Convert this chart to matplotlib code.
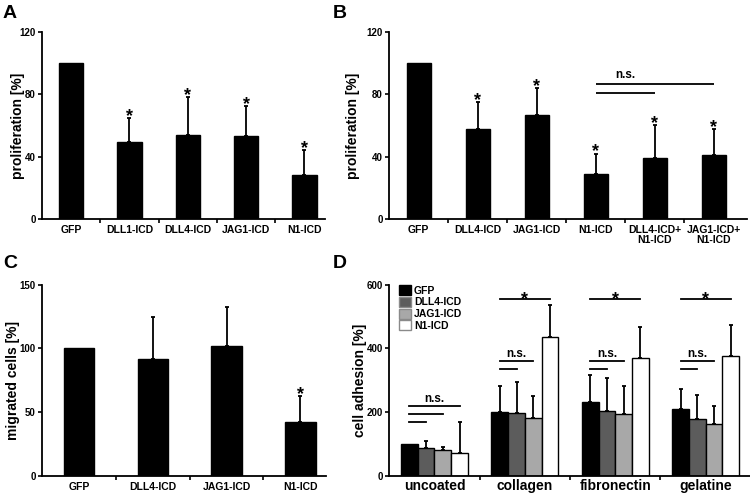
import matplotlib
matplotlib.use("Agg")
import matplotlib.pyplot as plt
from matplotlib.patches import Patch
import numpy as np

plt.rcParams['font.family'] = ['Liberation Sans', 'DejaVu Sans']
plt.rcParams['font.weight'] = 'bold'

# ------------------ data ------------------
a_labels = ["GFP", "DLL1-ICD", "DLL4-ICD", "JAG1-ICD", "N1-ICD"]
a_vals = [100, 49.5, 54, 53.5, 28]
a_sd = [0, 15, 24, 19, 16]
a_star = [False, True, True, True, True]

b_labels = ["GFP", "DLL4-ICD", "JAG1-ICD", "N1-ICD", "DLL4-ICD+\nN1-ICD", "JAG1-ICD+\nN1-ICD"]
b_vals = [100, 58, 67, 29, 39, 41.3]
b_sd = [0, 17, 17, 13, 21, 16.3]
b_star = [False, True, True, True, True, True]

c_labels = ["GFP", "DLL4-ICD", "JAG1-ICD", "N1-ICD"]
c_vals = [100, 92, 102, 42]
c_sd = [0, 33, 30.5, 20.5]
c_star = [False, False, False, True]

d_groups = ["uncoated", "collagen", "fibronectin", "gelatine"]
d_series = ["GFP", "DLL4-ICD", "JAG1-ICD", "N1-ICD"]
d_vals = {
    "GFP":      [100, 201, 232, 211],
    "DLL4-ICD": [89, 197, 205, 180],
    "JAG1-ICD": [81, 183, 193, 163],
    "N1-ICD":   [72, 435, 370, 375],
}
d_sd = {
    "GFP":      [0, 82, 84, 61],
    "DLL4-ICD": [21, 97, 102, 73],
    "JAG1-ICD": [11, 67, 88, 56],
    "N1-ICD":   [97, 101, 98, 98],
}
d_colors = ["#000000", "#5c5c5c", "#a8a8a8", "#ffffff"]

# ------------------ helpers ------------------
def style_axis(ax, ymax, yticks, ylabel, ncat, xright, label_x):
    for s in ["top", "right"]:
        ax.spines[s].set_visible(False)
    for s in ["left", "bottom"]:
        ax.spines[s].set_linewidth(1.3)
    ax.set_ylim(0, ymax)
    ax.set_yticks(yticks)
    ax.set_xlim(-0.5, xright)
    ax.tick_params(axis="y", direction="out", length=3, width=1.2, labelsize=7, pad=1.5)
    ax.tick_params(axis="x", which="major", length=0, pad=4)
    ax.set_xticks(np.arange(ncat - 1) + 0.5, minor=True)
    ax.tick_params(axis="x", which="minor", direction="out", length=3, width=1.2)
    ax.set_ylabel(ylabel, fontsize=10, fontweight="bold")
    ax.yaxis.set_label_coords(label_x, 0.5)
    for lab in ax.get_yticklabels():
        lab.set_fontweight("bold")


def star(ax, x, y, dy=-2.0, size=13):
    ax.annotate("*", (x, y), xytext=(0, dy), textcoords="offset points",
                ha="center", va="baseline", fontsize=size, fontweight="bold")


def err_up(ax, x, vals, sd):
    x = np.asarray(x, dtype=float)
    vals = np.asarray(vals, dtype=float)
    sd = np.asarray(sd, dtype=float)
    keep = sd > 0
    ax.errorbar(x[keep], vals[keep], yerr=[np.zeros(keep.sum()), sd[keep]], fmt="none",
                ecolor="black", elinewidth=1.3, capsize=1.5, capthick=1.3, zorder=3)


def simple_panel(ax, labels, vals, sd, stars, width, ymax, yticks, ylabel, xright, label_x):
    x = np.arange(len(labels))
    ax.bar(x, vals, width=width, color="black", edgecolor="black", zorder=2)
    err_up(ax, x, vals, sd)
    for xi, v, s, st in zip(x, vals, sd, stars):
        if st:
            star(ax, xi, v + s)
    style_axis(ax, ymax, yticks, ylabel, len(labels), xright, label_x)
    ax.set_xticks(x)
    ax.set_xticklabels(labels, fontsize=7.5, fontweight="bold", linespacing=1.1)


fig = plt.figure(figsize=(7.5, 4.96), dpi=100)

axA = fig.add_axes([0.056, 0.5585, 0.377, 0.377])
axB = fig.add_axes([0.519, 0.5585, 0.477, 0.377])
axC = fig.add_axes([0.056, 0.0403, 0.379, 0.3857])
axD = fig.add_axes([0.519, 0.0403, 0.481, 0.3857])

simple_panel(axA, a_labels, a_vals, a_sd, a_star, 0.42, 120, [0, 40, 80, 120],
             "proliferation [%]", 4.35, -0.060)
simple_panel(axB, b_labels, b_vals, b_sd, b_star, 0.405, 120, [0, 40, 80, 120],
             "proliferation [%]", 5.56, -0.081)
simple_panel(axC, c_labels, c_vals, c_sd, c_star, 0.41, 150, [0, 50, 100, 150],
             "migrated cells [%]", 3.35, -0.077)

# n.s. brackets in B
b_lines = [(3, 4, 80.9), (3, 5, 86.6)]
for x0, x1, yl in b_lines:
    axB.plot([x0, x1], [yl, yl], color="black", lw=1.3, solid_capstyle="butt")
axB.text(3.5, 88.5, "n.s.", ha="center", va="bottom", fontsize=8.5, fontweight="bold")

# ------------------ panel D ------------------
gx = np.arange(len(d_groups))
bw = 0.185
offsets = (np.arange(len(d_series)) - 1.5) * bw
for i, name in enumerate(d_series):
    xs = gx + offsets[i]
    axD.bar(xs, d_vals[name], width=bw, color=d_colors[i], edgecolor="black",
            linewidth=1.0, zorder=2)
    err_up(axD, xs, d_vals[name], d_sd[name])

style_axis(axD, 600, [0, 200, 400, 600], "cell adhesion [%]", 4, 3.49, -0.061)
axD.set_xticks(gx)
axD.set_xticklabels(d_groups, fontsize=10, fontweight="bold")
axD.tick_params(axis="x", which="major", pad=2)

# significance lines in D
unc_heights = [170, 195, 220]
for k, yl in enumerate(unc_heights):
    axD.plot([offsets[0], offsets[k + 1]], [yl, yl], color="black", lw=1.3)
axD.text(0, 224, "n.s.", ha="center", va="bottom", fontsize=8.5, fontweight="bold")

coat_heights = [337, 362, 553.6]
for g in gx[1:]:
    for k, yl in enumerate(coat_heights):
        axD.plot([g + offsets[0], g + offsets[k + 1]], [yl, yl], color="black", lw=1.3)
    axD.text(g + (offsets[0] + offsets[2]) / 2, 365, "n.s.", ha="center", va="bottom",
             fontsize=8.5, fontweight="bold")
    star(axD, g + (offsets[0] + offsets[3]) / 2, 553.6, dy=-3.5)

handles = [Patch(facecolor=c, edgecolor=("black" if i == 0 else "#8a8a8a"), linewidth=1.0)
           for i, c in enumerate(d_colors)]
axD.legend(handles, d_series, loc="upper left", bbox_to_anchor=(0.015, 1.02),
           frameon=False, handlelength=1.15, handleheight=1.1,
           labelspacing=0.12, handletextpad=0.3, borderaxespad=0,
           prop={"weight": "bold", "size": 7.5})

# panel letters
for lx, ly, letter in [(0.004, 0.99, "A"), (0.444, 0.99, "B"),
                       (0.004, 0.485, "C"), (0.444, 0.485, "D")]:
    fig.text(lx, ly, letter, ha="left", va="top", fontsize=14, fontweight="bold")

fig.savefig("out.png", dpi=100)
